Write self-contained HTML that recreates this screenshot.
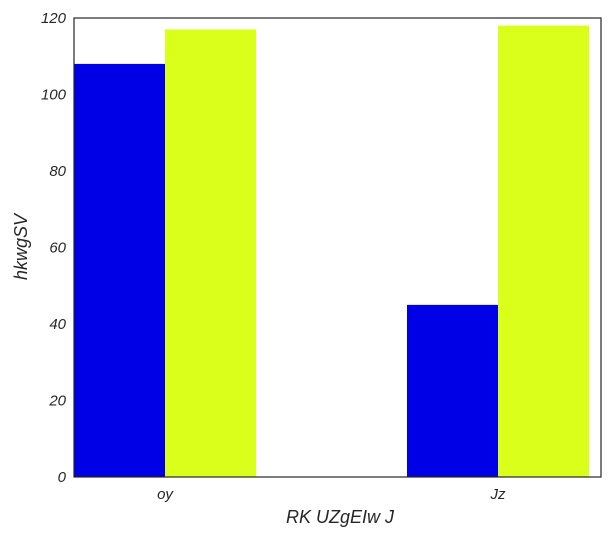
<!DOCTYPE html>
<html><head><meta charset="utf-8"><style>
body{margin:0;background:#fff;}
svg text{font-family:"Liberation Sans",sans-serif;font-style:italic;fill:#262626;}
</style></head><body>
<svg id="chart" width="616" height="539">
<g id="marks"></g>
<rect x="74" y="18" width="527" height="459" fill="none" stroke="#262626" stroke-width="1.2"/>
<g id="ticks"></g>
<text x="340" y="523" font-size="18" text-anchor="middle">RK UZgEIw J</text>
<text transform="translate(27,247) rotate(-90)" font-size="18" text-anchor="middle">hkwgSV</text>
</svg>
<script>
const categories=["oy","Jz"];
const series1=[108,45];
const series2=[117,118];
const yTicks=[0,20,40,60,80,100,120];
const NS="http://www.w3.org/2000/svg";
const L=74,R=601,T=18,B=477;
const xmin=-0.2733,xmax=1.3093,bw=0.2733;
function xs(v){return L+(v-xmin)/(xmax-xmin)*(R-L);}
function ys(v){return B-v/120*(B-T);}
const marks=document.getElementById('marks'),ticks=document.getElementById('ticks');
function bar(x0,v,c,name){
 const r=document.createElementNS(NS,'rect');
 r.setAttribute('x',xs(x0));r.setAttribute('width',xs(x0+bw)-xs(x0));
 r.setAttribute('y',ys(v));r.setAttribute('height',ys(0)-ys(v));r.setAttribute('fill',c);
 
 
 marks.appendChild(r);
}
categories.forEach((c,i)=>{
 bar(i-bw,series1[i],'#0000e6','bar-series1-'+c);
 bar(i,series2[i],'#d9ff1a','bar-series2-'+c);
 const t=document.createElementNS(NS,'text');
 t.setAttribute('x',xs(i));t.setAttribute('y',499);t.setAttribute('font-size','15');t.setAttribute('text-anchor','middle');
 t.textContent=c;
 
 
 ticks.appendChild(t);
});
yTicks.forEach(v=>{
 const t=document.createElementNS(NS,'text');
 t.setAttribute('x',66);t.setAttribute('y',ys(v)+5);t.setAttribute('font-size','15');t.setAttribute('text-anchor','end');
 t.textContent=v;
 
 
 ticks.appendChild(t);
});
</script>
</body></html>
